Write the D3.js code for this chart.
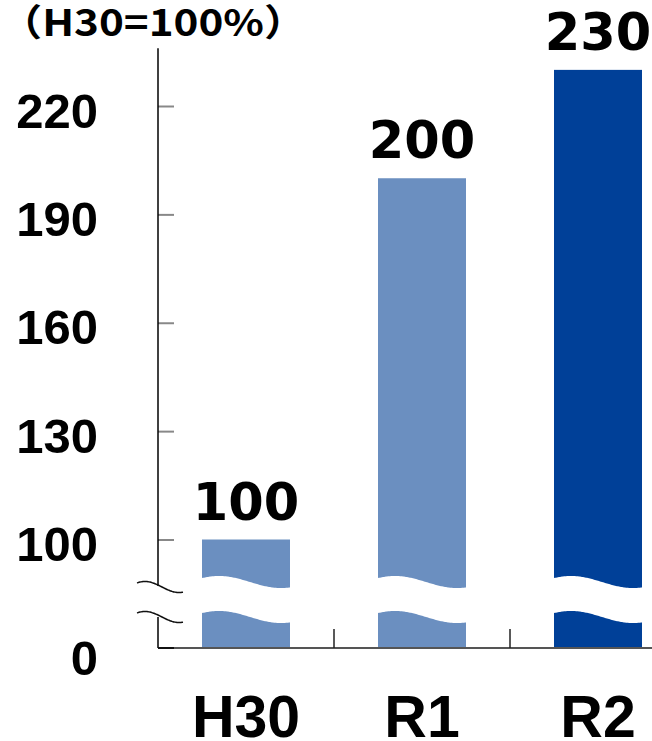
<!DOCTYPE html>
<html>
<head>
<meta charset="utf-8">
<script src="https://cdn.jsdelivr.net/npm/d3@7/dist/d3.min.js"></script>
<style>
  html, body { margin: 0; padding: 0; background: #fff; }
  svg { display: block; }
</style>
</head>
<body>
<svg id="chart" width="652" height="741"></svg>
<script>
// ---- data ----
const categories = ["H30", "R1", "R2"];
const values = [100, 200, 230];
const barColors = ["#6b8fc0", "#6b8fc0", "#004098"];
const yTickValues = [100, 130, 160, 190, 220];
const zeroLabel = "0";
const unitLabel = "（H30=100%）";

// ---- layout ----
const W = 652, H = 741;
const axisX = 158;
const baseY = 648;
const svg = d3.select("#chart");

const y = d3.scaleLinear().domain([100, 240]).range([539.5, 539.5 - 140 * 3.6125]);
const x = d3.scaleBand().domain(categories).range([axisX, axisX + 528])
  .paddingInner(0.5).paddingOuter(0.25);

// bars
svg.append("g").selectAll("rect").data(categories).join("rect")
  .attr("x", d => x(d))
  .attr("y", (d, i) => y(values[i]))
  .attr("width", x.bandwidth())
  .attr("height", (d, i) => baseY - y(values[i]))
  .attr("fill", (d, i) => barColors[i]);

// wavy break cut through bars
function wave(x0, x1, c, tp) {
  const pts = [];
  for (let xx = x0; xx <= x1 + 0.01; xx += 1) {
    pts.push([xx, c - 6 * Math.cos(2 * Math.PI * (xx - tp) / 124)]);
  }
  return pts;
}
svg.append("g").selectAll("path").data(categories).join("path")
  .attr("fill", "#fff")
  .attr("d", d => {
    const l = x(d) - 1, r = x(d) + x.bandwidth() + 1;
    const tp = x(d) + 17;
    const up = wave(l, r, 582, tp);
    const lo = wave(l, r, 617, tp).reverse();
    return d3.line()(up.concat(lo)) + "Z";
  });

// y axis with inner ticks
const yAxis = d3.axisLeft(y).tickValues(yTickValues).tickSize(-16).tickPadding(60)
  .tickFormat(d3.format("d"));
const gy = svg.append("g").attr("transform", `translate(${axisX},0)`).call(yAxis);
gy.select(".domain").remove();
gy.selectAll(".tick line").attr("stroke", "#888").attr("stroke-width", 2);
gy.selectAll(".tick text")
  .attr("font-family", "'Liberation Sans', Arial, sans-serif")
  .attr("font-weight", "bold")
  .attr("font-size", 49)
  .attr("fill", "#000")
  .attr("dy", "0.43em");

// zero label
svg.append("text").attr("x", 98).attr("y", 675)
  .attr("text-anchor", "end")
  .attr("font-family", "'Liberation Sans', Arial, sans-serif")
  .attr("font-weight", "bold").attr("font-size", 49).text(zeroLabel);

// y axis line (broken)
svg.append("line").attr("x1", axisX).attr("x2", axisX).attr("y1", y(236)).attr("y2", 586)
  .attr("stroke", "#000").attr("stroke-width", 1.5);
svg.append("line").attr("x1", axisX).attr("x2", axisX).attr("y1", 617).attr("y2", baseY)
  .attr("stroke", "#000").attr("stroke-width", 1.5);

// break marks
function bmark(c) {
  const pts = [];
  for (let xx = 137; xx <= 183; xx += 1) {
    pts.push([xx, c - 5.5 * Math.cos(2 * Math.PI * (xx - 145) / 68)]);
  }
  return d3.line().curve(d3.curveBasis)(pts);
}
[587, 617].forEach(c => svg.append("path").attr("d", bmark(c))
  .attr("fill", "none").attr("stroke", "#111").attr("stroke-width", 1.5));

// baseline
svg.append("line").attr("x1", axisX).attr("x2", W).attr("y1", baseY).attr("y2", baseY)
  .attr("stroke", "#555").attr("stroke-width", 2);
svg.append("line").attr("x1", axisX).attr("x2", axisX + 16).attr("y1", baseY).attr("y2", baseY)
  .attr("stroke", "#111").attr("stroke-width", 2);

// category dividers
svg.append("g").selectAll("line").data(categories.slice(1)).join("line")
  .attr("x1", d => x(d) - x.step() * x.paddingInner() / 2)
  .attr("x2", d => x(d) - x.step() * x.paddingInner() / 2)
  .attr("y1", 629).attr("y2", baseY)
  .attr("stroke", "#222").attr("stroke-width", 1.5);

// x axis labels
const xAxis = d3.axisBottom(x).tickSize(0).tickPadding(0);
const gx = svg.append("g").attr("transform", `translate(0,${baseY})`).call(xAxis);
gx.select(".domain").remove();
gx.selectAll(".tick text")
  .attr("font-family", "'Liberation Sans', Arial, sans-serif")
  .attr("font-weight", "bold").attr("font-size", 59).attr("fill", "#000")
  .attr("y", 0).attr("dy", 89);

// value labels
svg.append("g").selectAll("text").data(categories).join("text")
  .attr("x", d => x(d) + x.bandwidth() / 2)
  .attr("y", (d, i) => y(values[i]) - 20)
  .attr("text-anchor", "middle")
  .attr("font-family", "'DejaVu Sans', Verdana, sans-serif")
  .attr("font-weight", "bold").attr("font-size", 51).attr("fill", "#000")
  .text((d, i) => values[i]);

// unit label
svg.append("text").attr("x", 0).attr("y", 36)
  .attr("transform", "scale(1.14,1)")
  .attr("font-family", "'Noto Sans CJK JP', sans-serif")
  .attr("font-weight", "bold").attr("font-size", 37).attr("fill", "#000")
  .text(unitLabel);
</script>
</body>
</html>
